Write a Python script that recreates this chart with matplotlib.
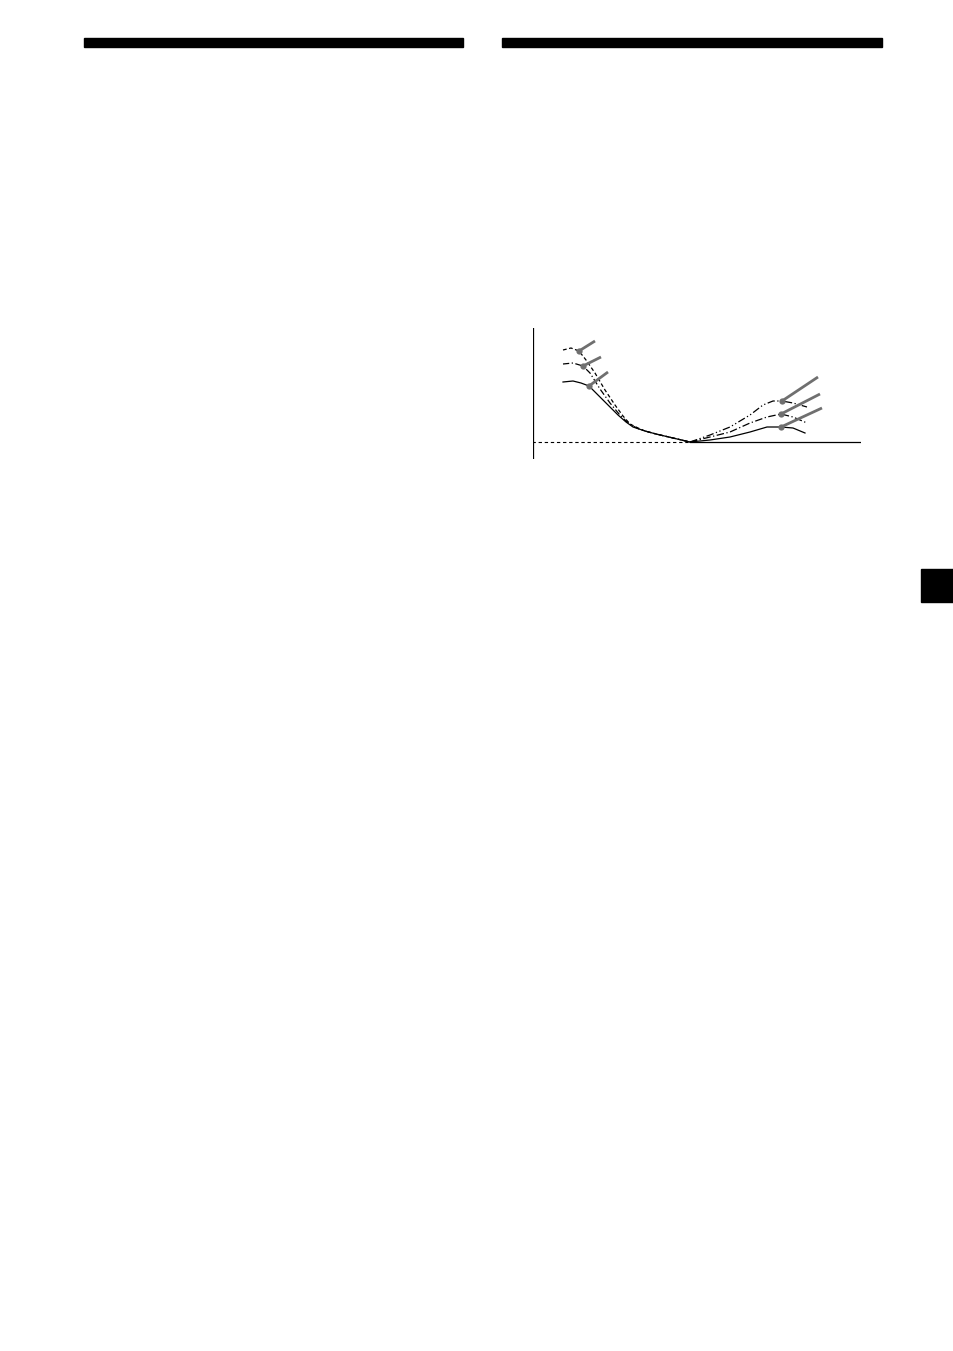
import matplotlib
matplotlib.use("Agg")
import matplotlib.pyplot as plt
from matplotlib.patches import Rectangle

# curve points (x, level), origin at axis crossing
top_left_x = [30, 38, 46, 53, 62, 72, 82, 90, 97, 105, 112, 123, 140, 157]
top_left_y = [92, 94, 91, 82, 69, 52, 37, 26, 18, 14, 11, 8, 4, 0]
mid_left_x = [30, 40, 50, 57, 67, 77, 86, 93, 100, 106, 112, 123, 140, 157]
mid_left_y = [78, 79, 76, 69, 53, 39, 28, 21, 16, 13, 11, 8, 4, 0]
bot_left_x = [30, 40, 48, 56, 65, 75, 85, 93, 100, 106, 112, 123, 140, 157]
bot_left_y = [60, 61, 59, 56, 47, 37, 27, 20, 15, 13, 11, 8, 4, 0]

top_right_x = [157, 177, 197, 217, 230, 240, 249, 260, 274]
top_right_y = [0, 7, 15, 27, 37, 41, 41, 39, 35]
mid_right_x = [157, 177, 197, 217, 234, 248, 260, 274]
mid_right_y = [0, 5, 10, 19, 25, 28, 25, 19]
bot_right_x = [157, 177, 197, 217, 234, 248, 260, 272]
bot_right_y = [0, 2, 5, 10, 15, 15, 14, 9]

# marker dots and the gray leader lines going off to the upper right
dot_x = [46, 50, 56, 249, 248, 248]
dot_y = [91, 76, 56, 41, 28, 15]
lead_x = [62, 68, 75, 285, 287, 289]
lead_y = [101, 85, 70, 65, 48, 34]

W, H = 954, 1351
fig = plt.figure(figsize=(W / 100, H / 100), dpi=100)

# page decorations (header rules and side tab)
page = fig.add_axes([0, 0, 1, 1])
page.set_xlim(0, W)
page.set_ylim(H, 0)
page.axis("off")
page.add_patch(Rectangle((84, 38), 379, 9, color="black"))
page.add_patch(Rectangle((502, 38), 380, 9, color="black"))
page.add_patch(Rectangle((921, 569), 33, 33, color="black"))

# chart area: x 533..861 px, y 328..459 px (baseline at 442)
ax = fig.add_axes([533 / W, 1 - 459 / H, 328 / W, 131 / H])
ax.set_xlim(0, 328)
ax.set_ylim(-17, 114)
ax.axis("off")

ax.plot([0, 0], [-17, 114], color="black", lw=0.9)
ax.plot([-1, 157], [0, 0], color="black", lw=0.8, ls=(0, (3, 2.5)))
ax.plot([157, 328], [0, 0], color="black", lw=0.9)

lw = 0.9
ax.plot(top_left_x, top_left_y, color="black", lw=lw, ls=(0, (3, 2)))
ax.plot(mid_left_x, mid_left_y, color="black", lw=lw, ls=(0, (5, 2, 1, 2)))
ax.plot(bot_left_x, bot_left_y, color="black", lw=lw)
ax.plot(top_right_x, top_right_y, color="black", lw=lw, ls=(0, (6, 2, 1, 2, 1, 2)))
ax.plot(mid_right_x, mid_right_y, color="black", lw=lw, ls=(0, (6, 2, 1, 2)))
ax.plot(bot_right_x, bot_right_y, color="black", lw=lw)

for x0, y0, x1, y1 in zip(dot_x, dot_y, lead_x, lead_y):
    ax.plot([x0, x1], [y0, y1], color="#6f6f6f", lw=2.0, solid_capstyle="butt")
ax.plot(dot_x, dot_y, "o", color="#6f6f6f", ms=4.5, mec="none")

fig.savefig("out.png", dpi=100)
